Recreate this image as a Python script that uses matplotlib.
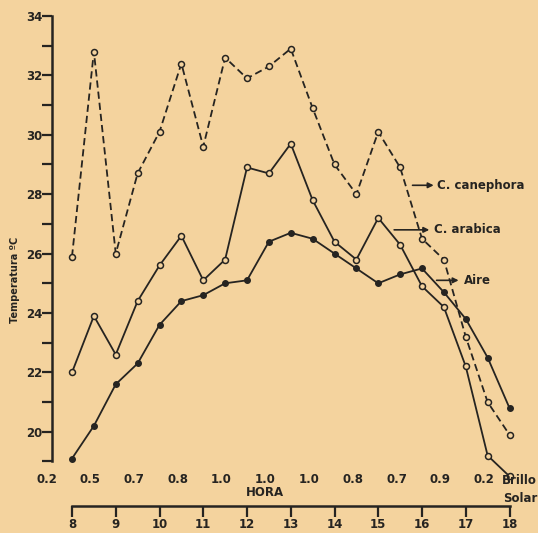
import matplotlib.pyplot as plt
import numpy as np

# hora del dia (cada media hora, 8:00 a 18:00)
horas = np.arange(8, 18.01, 0.5)

canephora = [25.9, 32.8, 26.0, 28.7, 30.1, 32.4, 29.6, 32.6, 31.9, 32.3, 32.9,
             30.9, 29.0, 28.0, 30.1, 28.9, 26.5, 25.8, 23.2, 21.0, 19.9]
arabica = [22.0, 23.9, 22.6, 24.4, 25.6, 26.6, 25.1, 25.8, 28.9, 28.7, 29.7,
           27.8, 26.4, 25.8, 27.2, 26.3, 24.9, 24.2, 22.2, 19.2, 18.5]
aire = [19.1, 20.2, 21.6, 22.3, 23.6, 24.4, 24.6, 25.0, 25.1, 26.4, 26.7,
        26.5, 26.0, 25.5, 25.0, 25.3, 25.5, 24.7, 23.8, 22.5, 20.8]

# brillo solar por hora (7-8 ... 17-18)
brillo_horas = [7, 8, 9, 10, 11, 12, 13, 14, 15, 16, 17]
brillo = ["0.2", "0.5", "0.7", "0.8", "1.0", "1.0", "1.0", "0.8", "0.7", "0.9", "0.2"]

hora_ticks = list(range(8, 19))

bg = "#F4D39E"
ink = "#262421"

fig = plt.figure(figsize=(5.38, 5.33), dpi=100, facecolor=bg)

# main axes: left spine at px 52, bottom of axes at px 485
ax = fig.add_axes([52 / 538, 1 - 485 / 533, 486 / 538, 485 / 533])
ax.patch.set_alpha(0)
ax.set_xlim(8 - 20 / 43.75, 8 + 466 / 43.75)
ax.set_ylim(34 - 469 / 29.7, 34 + 16 / 29.7)

ax.plot(horas, canephora, color=ink, lw=1.3, linestyle=(0, (4, 2.2)),
        marker="o", ms=4.3, mfc=bg, mec=ink, mew=1.1)
ax.plot(horas, arabica, color=ink, lw=1.3,
        marker="o", ms=4.3, mfc=bg, mec=ink, mew=1.1)
ax.plot(horas, aire, color=ink, lw=1.3,
        marker="o", ms=4.0, mfc=ink, mec=ink)

for s in ["top", "right", "bottom"]:
    ax.spines[s].set_visible(False)
ax.spines["left"].set_bounds(19, 34)
ax.spines["left"].set_linewidth(1.8)
ax.spines["left"].set_color(ink)
ax.set_yticks(range(20, 35, 2))
ax.set_yticks(range(19, 34, 2), minor=True)
ax.tick_params(axis="y", which="both", length=7, width=1.6, color=ink,
               pad=0, labelsize=8.5, labelcolor=ink)
for lab in ax.get_yticklabels():
    lab.set_fontweight("bold")
ax.set_xticks([])

# etiquetas de series
kw = dict(arrowprops=dict(arrowstyle="-|>", color=ink, lw=1.2, mutation_scale=8))
ax.annotate("", xy=(16.33, 28.3), xytext=(15.72, 28.3), **kw)
ax.text(16.35, 28.3, "C. canephora", fontsize=8.5, fontweight="bold", color=ink, va="center")
ax.annotate("", xy=(16.23, 26.8), xytext=(15.3, 26.8), **kw)
ax.text(16.28, 26.8, "C. arabica", fontsize=8.5, fontweight="bold", color=ink, va="center")
ax.annotate("", xy=(16.9, 25.1), xytext=(16.27, 25.1), **kw)
ax.text(16.95, 25.1, "Aire", fontsize=8.5, fontweight="bold", color=ink, va="center")

# brillo solar
for h, b in zip(brillo_horas, brillo):
    ax.text(h + 0.42, 18.38, b, fontsize=8.5, fontweight="bold", color=ink,
            ha="center", va="center", clip_on=False)
fig.text(537 / 538, 1 - 480 / 533, "Brillo", fontsize=8.5, fontweight="bold",
         color=ink, ha="right", va="center")
fig.text(537 / 538, 1 - 498 / 533, "Solar", fontsize=8.5, fontweight="bold",
         color=ink, ha="right", va="center")
fig.text(265 / 538, 1 - 493 / 533, "HORA", fontsize=8.5, fontweight="bold",
         color=ink, ha="center", va="center")

fig.text(15 / 538, 1 - 280 / 533, "Temperatura ºC", fontsize=7, fontweight="bold",
         color=ink, rotation=90, ha="center", va="center")

# eje de horas
ax2 = fig.add_axes([52 / 538, 1 - 506 / 533, 486 / 538, 0.001])
ax2.set_xlim(ax.get_xlim())
ax2.patch.set_alpha(0)
for s in ["top", "right", "left"]:
    ax2.spines[s].set_visible(False)
ax2.spines["bottom"].set_bounds(8, 18)
ax2.spines["bottom"].set_linewidth(1.8)
ax2.spines["bottom"].set_color(ink)
ax2.set_yticks([])
ax2.set_xticks(hora_ticks)
ax2.tick_params(axis="x", length=8, width=1.6, color=ink, pad=1,
                labelsize=8.5, labelcolor=ink)
for lab in ax2.get_xticklabels():
    lab.set_fontweight("bold")

fig.savefig("out.png", dpi=100, facecolor=bg)
